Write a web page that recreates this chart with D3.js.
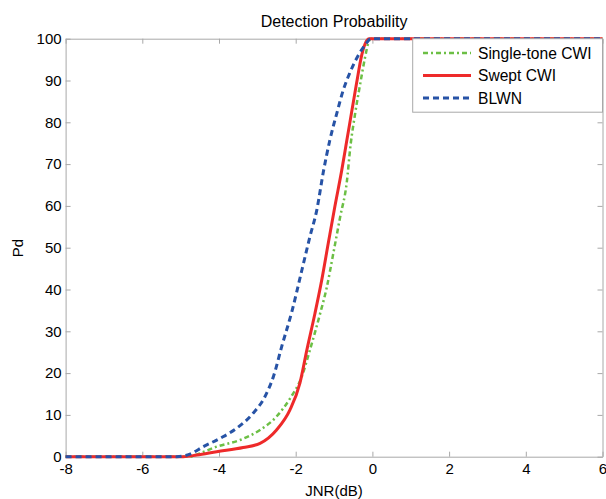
<!DOCTYPE html>
<html>
<head>
<meta charset="utf-8">
<script src="https://cdn.jsdelivr.net/npm/d3@7"></script>
<style>
  body { margin: 0; background: #fff; }
  svg text { font-family: "Liberation Sans", Arial, sans-serif; fill: #000; }
</style>
</head>
<body>
<svg width="606" height="499"></svg>
<script>
// 数据：横轴 JNR(dB)，纵轴 Pd
var toneX = [-8, -4.76, -4.5, -4.06, -3.45, -2.93, -2.5, -2.15, -1.84, -1.63, -1.37, -1.19, -1.02, -0.84, -0.67, -0.57, -0.45, -0.32, -0.19, -0.11, -0.04, 6];
var toneY = [0, 0, 0.8, 2.4, 4.0, 6.4, 9.6, 13.9, 19.2, 25.5, 34.0, 40.5, 48.6, 57.4, 65.5, 74.5, 82.1, 89.1, 95.6, 98.9, 100, 100];

var sweptX = [-8, -4.93, -4.58, -4.06, -3.37, -2.93, -2.5, -2.15, -1.89, -1.71, -1.5, -1.32, -1.15, -0.98, -0.8, -0.67, -0.54, -0.41, -0.28, -0.19, -0.08, 6];
var sweptY = [0, 0, 0.4, 1.2, 2.2, 3.2, 6.4, 11.2, 17.6, 25.5, 34.2, 42.3, 51.1, 59.8, 68.5, 75.5, 82.5, 89.5, 96.0, 98.8, 100, 100];

var blwnX = [-8, -5.1, -4.76, -4.41, -3.97, -3.54, -3.11, -2.8, -2.58, -2.36, -2.1, -1.84, -1.63, -1.45, -1.28, -1.11, -0.93, -0.76, -0.58, -0.37, -0.15, -0.05, 6];
var blwnY = [0, 0, 0.6, 2.4, 4.4, 6.8, 10.4, 14.4, 19.2, 26.5, 34.7, 44.6, 52.6, 59.0, 68.1, 75.7, 82.1, 87.7, 92.0, 96.0, 99.0, 100, 100];

var seriesNames = ["Single-tone CWI", "Swept CWI", "BLWN"];
var xTicks = [-8, -6, -4, -2, 0, 2, 4, 6];
var yTicks = [0, 10, 20, 30, 40, 50, 60, 70, 80, 90, 100];

var series = [
    {name: seriesNames[0], xs: toneX, ys: toneY, color: "#6cbf45", width: 2.5, dash: "5,3,2,3"},
    {name: seriesNames[1], xs: sweptX, ys: sweptY, color: "#ee2a2a", width: 3, dash: null},
    {name: seriesNames[2], xs: blwnX, ys: blwnY, color: "#2753a6", width: 3, dash: "6,4"}
];

var svg = d3.select("svg");
var mLeft = 65.6, mRight = 602.5, mTop = 38.7, mBottom = 456.7;
var axisColor = "#a8a8a8";

var x = d3.scaleLinear().domain([-8, 6]).range([mLeft, mRight]);
var y = d3.scaleLinear().domain([0, 100]).range([mBottom, mTop]);
var plain = function(d) { return String(d); };   // 用普通减号

// 坐标轴框和刻度（刻度朝内）
var frame = svg.append("g");
frame.append("g")
    .attr("transform", "translate(0," + mBottom + ")")
    .call(d3.axisBottom(x).tickValues(xTicks).tickSizeInner(-5).tickSizeOuter(0).tickPadding(7).tickFormat(plain));
frame.append("g")
    .attr("transform", "translate(0," + mTop + ")")
    .call(d3.axisTop(x).tickValues(xTicks).tickSizeInner(-5).tickSizeOuter(0).tickFormat(""));
frame.append("g")
    .attr("transform", "translate(" + mLeft + ",0)")
    .call(d3.axisLeft(y).tickValues(yTicks).tickSizeInner(-5).tickSizeOuter(0).tickPadding(4).tickFormat(plain));
frame.append("g")
    .attr("transform", "translate(" + mRight + ",0)")
    .call(d3.axisRight(y).tickValues(yTicks).tickSizeInner(-5).tickSizeOuter(0).tickFormat(""));

frame.selectAll(".domain, .tick line").attr("stroke", axisColor);
frame.selectAll(".tick text")
    .attr("font-size", 15)
    .attr("font-family", "Liberation Sans, Arial, sans-serif")
    .attr("fill", "#000");

// 曲线
var line = d3.line()
    .curve(d3.curveMonotoneX)
    .x(function(d) { return x(d[0]); })
    .y(function(d) { return y(d[1]); });

svg.append("g").selectAll("path")
    .data(series)
    .enter().append("path")
    .attr("d", function(s) { return line(s.xs.map(function(v, i) { return [v, s.ys[i]]; })); })
    .attr("fill", "none")
    .attr("stroke", function(s) { return s.color; })
    .attr("stroke-width", function(s) { return s.width; })
    .attr("stroke-dasharray", function(s) { return s.dash; })
    .attr("stroke-linejoin", "round");

// 图例
var legend = svg.append("g");
legend.append("rect")
    .attr("x", 412.7).attr("y", mTop)
    .attr("width", mRight - 412.7).attr("height", 73.5)
    .attr("fill", "#fff")
    .attr("stroke", axisColor);

series.forEach(function(s, i) {
    var ly = 53 + i * 22.5;
    legend.append("line")
        .attr("x1", 423).attr("x2", 471)
        .attr("y1", ly).attr("y2", ly)
        .attr("stroke", s.color)
        .attr("stroke-width", s.width)
        .attr("stroke-dasharray", s.dash);
    legend.append("text")
        .attr("x", 478).attr("y", ly + 5.5)
        .attr("font-size", 15.6)
        .text(s.name);
});

// 标题和轴标签
svg.append("text")
    .attr("x", (mLeft + mRight) / 2).attr("y", 26.5)
    .attr("text-anchor", "middle")
    .attr("font-size", 16)
    .text("Detection Probability");

svg.append("text")
    .attr("x", (mLeft + mRight) / 2).attr("y", 496)
    .attr("text-anchor", "middle")
    .attr("font-size", 15)
    .text("JNR(dB)");

svg.append("text")
    .attr("transform", "translate(23,248) rotate(-90)")
    .attr("text-anchor", "middle")
    .attr("font-size", 15)
    .text("Pd");
</script>
</body>
</html>
